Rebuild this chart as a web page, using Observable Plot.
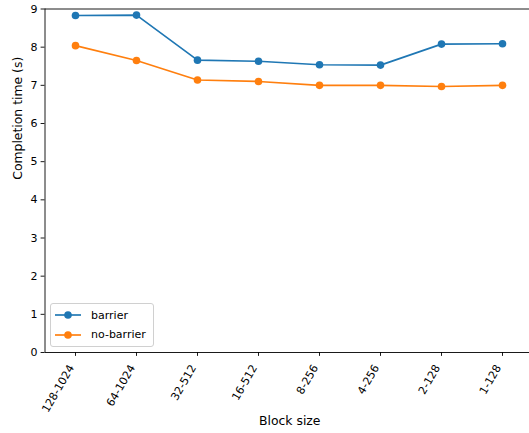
<!DOCTYPE html>
<html>
<head>
<meta charset="utf-8">
<script src="https://cdn.jsdelivr.net/npm/d3@7"></script>
<script src="https://cdn.jsdelivr.net/npm/@observablehq/plot@0.6"></script>
<style>
  html, body { margin: 0; padding: 0; background: white; overflow: hidden; }
  #wrap { position: relative; width: 529px; height: 433px; font-family: "DejaVu Sans", sans-serif; }
  #legend { position: absolute; left: 50px; top: 303px; width: 104px; height: 44px; box-sizing: border-box;
    border: 1px solid #d0d0d0; border-radius: 3px; background: rgba(255,255,255,0.8); font-size: 11px; color: #000; }
  .item { position: absolute; left: 4px; display: flex; align-items: center; height: 14px; }
  .item span { margin-left: 10px; }
</style>
</head>
<body>
<div id="wrap"></div>
<script>
const categories = ["128-1024", "64-1024", "32-512", "16-512", "8-256", "4-256", "2-128", "1-128"];
const barrier = [8.83, 8.84, 7.66, 7.63, 7.54, 7.53, 8.08, 8.09];
const noBarrier = [8.04, 7.65, 7.14, 7.10, 7.00, 7.00, 6.97, 7.00];
const seriesNames = ["barrier", "no-barrier"];
const seriesColors = ["#1f77b4", "#ff7f0e"];
const yTicks = [0, 1, 2, 3, 4, 5, 6, 7, 8, 9];
const xLabel = "Block size";
const yLabel = "Completion time (s)";

const rows = [];
categories.forEach((c, i) => {
  rows.push({i, cat: c, value: barrier[i], series: seriesNames[0]});
});
categories.forEach((c, i) => {
  rows.push({i, cat: c, value: noBarrier[i], series: seriesNames[1]});
});
const idx = categories.map((c, i) => i);

const chart = Plot.plot({
  width: 529,
  height: 433,
  marginLeft: 44.5,
  marginTop: 8.5,
  marginBottom: 81,
  marginRight: 0,
  style: {fontFamily: "DejaVu Sans", fontSize: "11px", background: "white", color: "black"},
  x: {type: "linear", domain: [-0.5, 7.5], range: [44.5, 532.5], axis: null},
  y: {domain: [0, 9], axis: null},
  color: {domain: seriesNames, range: seriesColors},
  marks: [
    Plot.axisX({ticks: idx, tickSize: 3.9, tickFormat: () => "", label: null, strokeWidth: 0.9, stroke: "black"}),
    Plot.text(categories, {x: (d, i) => i, frameAnchor: "bottom", rotate: -60, textAnchor: "end",
      lineAnchor: "bottom", dx: -1, dy: 15, fontSize: 11, fill: "black"}),
    Plot.axisY({ticks: yTicks, tickSize: 3.9, tickPadding: 3.5, strokeWidth: 0.9, stroke: "black",
      label: null, fontSize: 11, fill: "black"}),
    Plot.line(rows, {x: "i", y: "value", z: "series", stroke: "series", strokeWidth: 1.67}),
    Plot.dot(rows, {x: "i", y: "value", fill: "series", r: 3.8}),
    Plot.ruleY([0, 9], {stroke: "black", strokeWidth: 0.9}),
    Plot.ruleX([-0.5], {stroke: "black", strokeWidth: 0.9}),
    Plot.text([xLabel], {frameAnchor: "bottom", dx: 2.5, dy: 68.5, lineAnchor: "middle", fontSize: 12.4, fill: "black"}),
    Plot.text([yLabel], {frameAnchor: "left", rotate: -90, dx: -27, dy: -1, lineAnchor: "middle", fontSize: 12.4, fill: "black"})
  ]
});
const wrap = document.getElementById("wrap");
wrap.appendChild(chart);

const legend = document.createElement("div");
legend.id = "legend";
seriesNames.forEach((name, k) => {
  const item = document.createElement("div");
  item.className = "item";
  item.style.top = (4 + k * 19.5) + "px";
  item.innerHTML = `<svg width="26" height="10"><line x1="0" x2="26" y1="5" y2="5" stroke="${seriesColors[k]}" stroke-width="1.67"/><circle cx="13" cy="5" r="3.8" fill="${seriesColors[k]}"/></svg><span>${name}</span>`;
  legend.appendChild(item);
});
wrap.appendChild(legend);
</script>
</body>
</html>
